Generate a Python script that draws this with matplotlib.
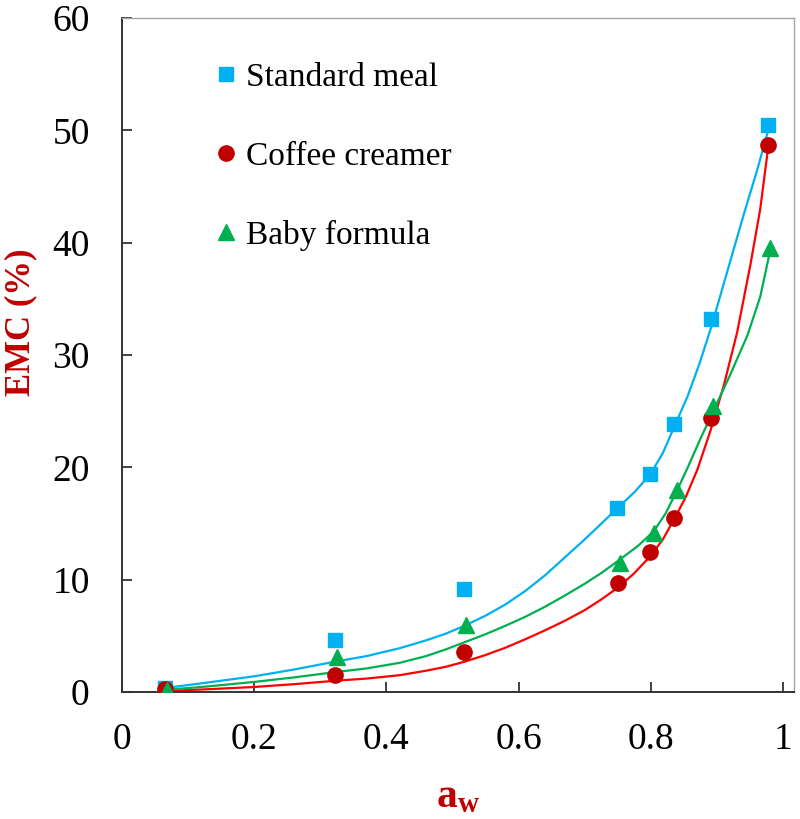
import matplotlib
matplotlib.use('Agg')
import matplotlib.pyplot as plt

plt.rcParams['font.family'] = ['Liberation Serif', 'DejaVu Serif']
plt.rcParams['mathtext.fontset'] = 'custom'
plt.rcParams['mathtext.rm'] = 'Liberation Serif'
plt.rcParams['mathtext.bf'] = 'Liberation Serif:bold'

# measured points
aw_meal = [0.065, 0.322, 0.518, 0.748, 0.799, 0.835, 0.891, 0.977]
emc_meal = [0.4, 4.6, 9.2, 16.4, 19.4, 23.9, 33.2, 50.5]
aw_creamer = [0.065, 0.323, 0.517, 0.750, 0.799, 0.834, 0.890, 0.977]
emc_creamer = [0.3, 1.5, 3.6, 9.7, 12.5, 15.5, 24.4, 48.7]
aw_baby = [0.068, 0.326, 0.521, 0.753, 0.804, 0.839, 0.894, 0.980]
emc_baby = [0.2, 3.1, 6.0, 11.5, 14.2, 18.0, 25.5, 39.5]

# fitted curves
fit_aw_meal = [0.065, 0.13, 0.2, 0.26, 0.322, 0.37, 0.42, 0.46, 0.49, 0.518,
               0.55, 0.58, 0.61, 0.64, 0.67, 0.70, 0.725, 0.748, 0.775, 0.799,
               0.818, 0.835, 0.855, 0.873, 0.891, 0.915, 0.94, 0.96, 0.977]
fit_meal = [0.35, 0.85, 1.4, 2.0, 2.7, 3.2, 3.9, 4.6, 5.2, 5.9,
            6.8, 7.8, 9.0, 10.4, 12.0, 13.6, 15.0, 16.3, 17.8, 19.4,
            21.3, 23.6, 26.3, 29.2, 32.5, 37.4, 42.5, 46.4, 50.0]
fit_aw_creamer = [0.065, 0.13, 0.2, 0.26, 0.322, 0.37, 0.42, 0.46, 0.49, 0.518,
                  0.55, 0.58, 0.61, 0.64, 0.67, 0.70, 0.725, 0.750, 0.775, 0.799,
                  0.818, 0.834, 0.852, 0.87, 0.890, 0.91, 0.93, 0.95, 0.965, 0.977]
fit_creamer = [0.1, 0.25, 0.45, 0.7, 1.0, 1.2, 1.5, 1.9, 2.25, 2.7,
               3.3, 3.95, 4.7, 5.5, 6.35, 7.3, 8.25, 9.3, 10.6, 12.1,
               13.6, 15.3, 17.3, 19.8, 23.3, 27.3, 32.0, 38.0, 43.0, 48.5]
fit_aw_baby = [0.068, 0.13, 0.2, 0.26, 0.326, 0.37, 0.42, 0.46, 0.49, 0.521,
               0.55, 0.58, 0.61, 0.64, 0.67, 0.70, 0.725, 0.753, 0.78, 0.804,
               0.822, 0.839, 0.857, 0.875, 0.894, 0.92, 0.946, 0.965, 0.980]
fit_baby = [0.2, 0.5, 0.9, 1.3, 1.8, 2.1, 2.6, 3.2, 3.8, 4.5,
            5.15, 5.9, 6.7, 7.6, 8.6, 9.65, 10.6, 11.8, 13.0, 14.3,
            15.9, 17.9, 20.2, 22.6, 25.0, 28.3, 31.8, 35.2, 39.3]

labels = ['Standard meal', 'Coffee creamer', 'Baby formula']
xticks = [0, 0.2, 0.4, 0.6, 0.8, 1]
xticklabels = ['0', '0.2', '0.4', '0.6', '0.8', '1']
yticks = [0, 10, 20, 30, 40, 50, 60]

fig = plt.figure(figsize=(8, 8.19), dpi=100)
ax = fig.add_axes([0.152, 0.155, 0.8405, 0.823])

ax.plot(fit_aw_meal, fit_meal, color='#00B0F0', lw=1.6, zorder=2)
ax.plot(fit_aw_creamer, fit_creamer, color='#FF0000', lw=1.6, zorder=2)
ax.plot(fit_aw_baby, fit_baby, color='#00B050', lw=1.6, zorder=2)

ax.plot(aw_meal, emc_meal, 's', color='#00B0F0', ms=10, mec='#00B0F0',
        ls='none', label=labels[0], zorder=3)
ax.plot(aw_creamer, emc_creamer, 'o', color='#C00000', ms=11, mec='#C00000',
        ls='none', label=labels[1], zorder=3)
ax.plot(aw_baby, emc_baby, '^', color='#00B050', ms=11, mec='#00B050',
        ls='none', label=labels[2], zorder=3)

ax.set_xlim(0, 1.016)
ax.set_ylim(0, 60)
ax.set_xticks(xticks)
ax.set_xticklabels(xticklabels)
ax.set_yticks(yticks)
ax.tick_params(direction='in', length=7, width=1.3, labelsize=27, color='#333333')
ax.tick_params(axis='x', pad=22)
ax.tick_params(axis='y', pad=23)

for s in ['left', 'bottom']:
    ax.spines[s].set_linewidth(1.4)
    ax.spines[s].set_color('#333333')
for s in ['top', 'right']:
    ax.spines[s].set_linewidth(1.0)
    ax.spines[s].set_color('#A6A6A6')

ax.set_xlabel(r'$\mathbf{a_w}$', fontsize=30, color='#C00000', labelpad=15)
ax.set_ylabel('EMC (%)', fontsize=25, fontweight='bold', color='#C00000')
ax.yaxis.set_label_coords(-0.126, 0.549)

ax.legend(loc='upper left', bbox_to_anchor=(0.12, 0.954), frameon=False,
          fontsize=24, handlelength=0.6, handletextpad=0.3, labelspacing=1.45,
          borderaxespad=0)

fig.savefig('out.png', dpi=100)
